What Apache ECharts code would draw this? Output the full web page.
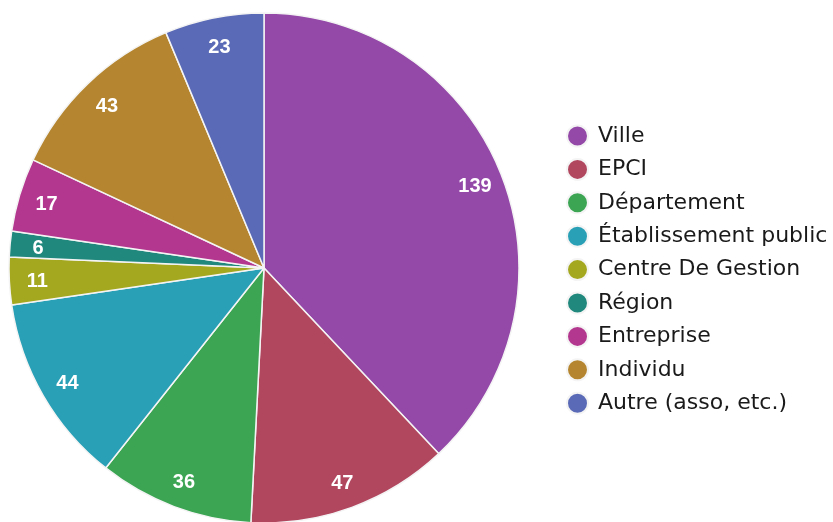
<!DOCTYPE html>
<html><head><meta charset="utf-8">
<script src="https://cdn.jsdelivr.net/npm/echarts@6/dist/echarts.min.js"></script>
<style>html,body{margin:0;padding:0;background:#fff}#c{width:833px;height:522px}</style>
</head><body><div id="c"></div>
<script>
const categories = ["Ville","EPCI","Département","Établissement public","Centre De Gestion","Région","Entreprise","Individu","Autre (asso, etc.)"];
const values = [139,47,36,44,11,6,17,43,23];
const colors = ["#9449a8","#b1465f","#3ba553","#2aa0b6","#a4a81f","#20887c","#b4378f","#b5862f","#5a6ab6"];

const data = categories.map((n,i)=>({name:n,value:values[i]}));
const chart = echarts.init(document.getElementById('c'));
chart.setOption({
  color: colors,
  animation: false,
  legend: {
    orient: 'vertical', left: 561, top: 119.5,
    icon: 'circle', itemWidth: 21, itemHeight: 21, itemGap: 10.4,
    textStyle: {fontFamily: 'DejaVu Sans', fontSize: 22, lineHeight: 21, color: '#1a1a1a', padding: [0,0,0,5]},
    data: categories
  },
  series: [{
    type: 'pie', center: [264, 268], radius: 255, startAngle: 90, clockwise: true,
    itemStyle: {borderColor: '#f4f4f4', borderWidth: 1.5},
    label: {show: false}, labelLine: {show: false},
    emphasis: {disabled: true},
    data: data
  },{
    type: 'pie', center: [264, 270], radius: [193, 255], startAngle: 90, clockwise: true,
    silent: true, legendHoverLink: false,
    itemStyle: {color: 'rgba(0,0,0,0)', borderWidth: 0},
    label: {show: true, position: 'inside', formatter: '{c}', color: '#fff', fontFamily: 'Liberation Sans', fontSize: 20, fontWeight: 'bold'},
    labelLine: {show: false},
    emphasis: {disabled: true},
    tooltip: {show: false},
    data: data
  }]
});
</script></body></html>
